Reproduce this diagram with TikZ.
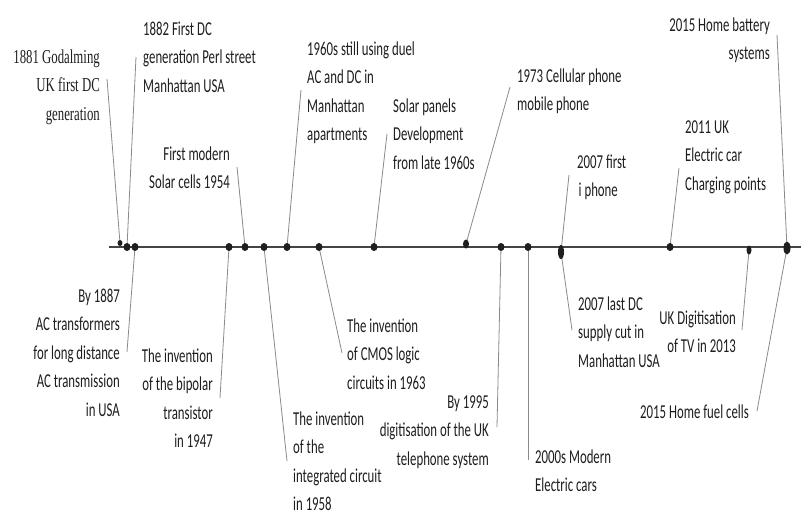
\documentclass[tikz,border=0pt]{standalone}
\usepackage{fontspec}
\setmainfont[FakeStretch=0.65]{Carlito}
\newfontfamily\timesf[FakeStretch=0.65]{Liberation Serif}
\usetikzlibrary{shapes.geometric}
\definecolor{txt}{HTML}{1E1E1E}
\definecolor{lead}{HTML}{8A8A8A}
\definecolor{axisc}{HTML}{444444}
\begin{document}
\begin{tikzpicture}[x=1pt,y=-1pt,
  lbl/.style={inner sep=0pt, text=txt, font=\fontsize{19.7}{28.6}\selectfont},
  lblL/.style={lbl, anchor=base west, align=left},
  lblR/.style={lbl, anchor=base east, align=right},
  leader/.style={draw=lead, line width=0.8pt},
  dotn/.style={ellipse, fill=black!88, inner sep=0pt, minimum width=7pt, minimum height=8pt},
  axis/.style={line width=2.5pt, draw=axisc}]
\fill[white] (0,0) rectangle (801,512);
\useasboundingbox (0,0) rectangle (801,512);

% timeline
\coordinate (ax0) at (109,247);
\coordinate (ax1) at (801,247);

% leader end points
\coordinate (e1) at (107,79);
\coordinate (e2) at (136,57);
\coordinate (e3) at (127,352);
\coordinate (e4) at (237,167);
\coordinate (e5) at (220,398);
\coordinate (e6) at (287,461);
\coordinate (e7) at (301,90);
\coordinate (e8) at (342,353);
\coordinate (e9) at (387,134);
\coordinate (e10) at (510,87);
\coordinate (e11) at (497,427);
\coordinate (e12) at (528,460);
\coordinate (e13) at (569,175);
\coordinate (e14) at (572,330);
\coordinate (e15) at (679,168);
\coordinate (e16) at (742,330);
\coordinate (e17) at (777,35);
\coordinate (e18) at (757,411);

% dots (positions)
\coordinate (p1) at (120,243);
\coordinate (p2) at (127,247);
\coordinate (p3) at (135,247);
\coordinate (p4) at (229,247);
\coordinate (p5) at (245,247);
\coordinate (p6) at (264,247);
\coordinate (p7) at (287,247);
\coordinate (p8) at (319,247);
\coordinate (p9) at (374,247);
\coordinate (p10) at (466,244);
\coordinate (p11) at (501,247);
\coordinate (p12) at (528,247);
\coordinate (p13) at (561,252);
\coordinate (p14) at (670,247);
\coordinate (p15) at (749,250);
\coordinate (p16) at (787,248);

% leaders
\draw[leader] (e1) -- (p1);
\draw[leader] (e2) -- (p2);
\draw[leader] (p3) -- (e3);
\draw[leader] (e4) -- (p5);
\draw[leader] (p4) -- (e5);
\draw[leader] (p6) -- (e6);
\draw[leader] (e7) -- (p7);
\draw[leader] (p8) -- (e8);
\draw[leader] (e9) -- (p9);
\draw[leader] (e10) -- (p10);
\draw[leader] (p11) -- (e11);
\draw[leader] (p12) -- (e12);
\draw[leader] (e13) -- (p13);
\draw[leader] (p13) -- (e14);
\draw[leader] (e15) -- (p14);
\draw[leader] (p15) -- (e16);
\draw[leader] (e17) -- (p16);
\draw[leader] (p16) -- (e18);

\draw[axis] (ax0) -- (ax1);

% dots
\node[dotn, minimum width=5pt, minimum height=6pt] (d1) at (p1) {};
\node[dotn] (d2) at (p2) {};
\node[dotn] (d3) at (p3) {};
\node[dotn] (d4) at (p4) {};
\node[dotn] (d5) at (p5) {};
\node[dotn] (d6) at (p6) {};
\node[dotn] (d7) at (p7) {};
\node[dotn] (d8) at (p8) {};
\node[dotn] (d9) at (p9) {};
\node[dotn, minimum width=6pt, minimum height=9pt] (d10) at (p10) {};
\node[dotn] (d11) at (p11) {};
\node[dotn] (d12) at (p12) {};
\node[dotn, minimum width=6pt, minimum height=14pt] (d13) at (p13) {};
\node[dotn] (d14) at (p14) {};
\node[dotn, minimum width=5pt, minimum height=9pt] (d15) at (p15) {};
\node[dotn, minimum width=7pt, minimum height=13pt] (d16) at (p16) {};

% top labels (anchor = baseline of last line)
\node[lblR, font=\timesf\fontsize{19.7}{28.6}\selectfont] (t1) at (100,120.2) {1881 Godalming\\UK first DC\\generation};
\node[lblL] (t2) at (143,92.2) {1882 First DC\\generation Perl street\\Manhattan USA};
\node[lblR] (t3) at (230,188.6) {First modern\\Solar cells 1954};
\node[lblL] (t4) at (307,140.8) {1960s still using duel\\AC and DC in\\Manhattan\\apartments};
\node[lblL] (t5) at (393,169.2) {Solar panels\\Development\\from late 1960s};
\node[lblL] (t6) at (517,110.6) {1973 Cellular phone\\mobile phone};
\node[lblL] (t7) at (577,196.6) {2007 first\\\hspace*{1.5pt}i phone};
\node[lblL] (t8) at (685,190.2) {2011 UK\\Electric car\\Charging points};
\node[lblR] (t9) at (770,59.6) {2015 Home battery\\systems};

% bottom labels
\node[lblR] (b1) at (120,416.4) {By 1887\\AC transformers\\for long distance\\AC transmission\\in USA};
\node[lblR] (b2) at (213,447.8) {The invention\\of the bipolar\\transistor\\in 1947};
\node[lblL] (b3) at (293,510.8) {The invention\\of the\\integrated circuit\\in 1958};
\node[lblL] (b4) at (347,389.2) {The invention\\of CMOS logic\\circuits in 1963};
\node[lblR] (b5) at (489,465.2) {By 1995\\digitisation of the UK\\telephone system};
\node[lblL] (b6) at (535,491.6) {2000s Modern\\Electric cars};
\node[lblL] (b7) at (578,367.2) {2007 last DC\\supply cut in\\Manhattan USA};
\node[lblR] (b8) at (736,352.6) {UK Digitisation\\of TV in 2013};
\node[lblR] (b9) at (749,418) {2015 Home fuel cells};
\end{tikzpicture}
\end{document}
